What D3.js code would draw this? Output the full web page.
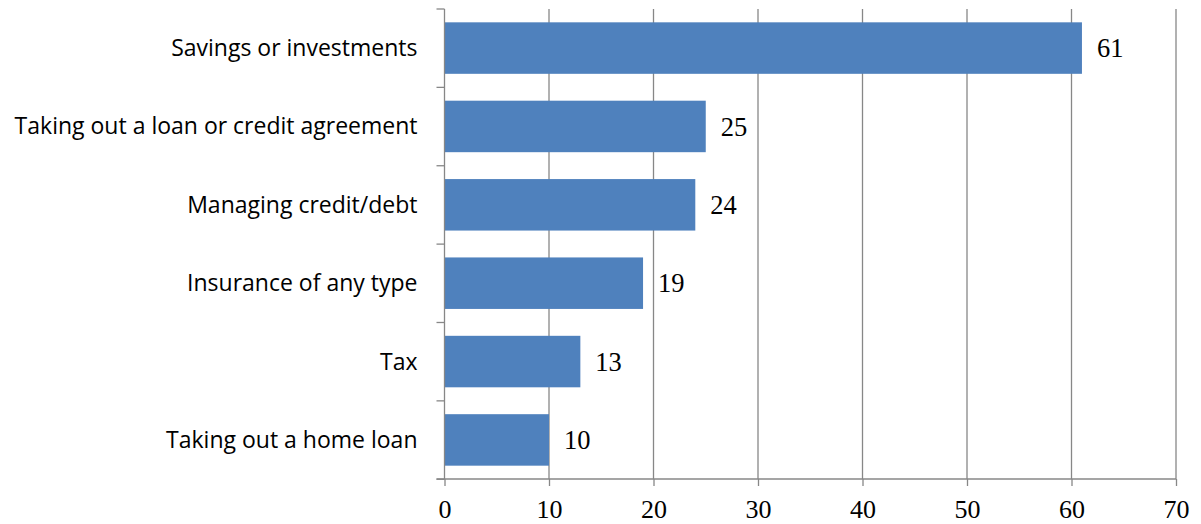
<!DOCTYPE html>
<html>
<head>
<meta charset="utf-8">
<script src="https://cdn.jsdelivr.net/npm/d3@7"></script>
<style>
  html, body { margin: 0; padding: 0; background: #fff; }
  svg { display: block; }
</style>
</head>
<body>
<svg id="chart" width="1201" height="524"></svg>
<script>
// Reasons for seeking financial advice (%)
const categories = [
  "Savings or investments",
  "Taking out a loan or credit agreement",
  "Managing credit/debt",
  "Insurance of any type",
  "Tax",
  "Taking out a home loan"
];
const values = [61, 25, 24, 19, 13, 10];
const xTicks = [0, 10, 20, 30, 40, 50, 60, 70];

const width = 1201, height = 524;
const margin = { top: 9, right: 25, bottom: 45, left: 444.5 };

const svg = d3.select("#chart");

const x = d3.scaleLinear()
  .domain([0, 70])
  .range([margin.left, width - margin.right]);

const y = d3.scaleBand()
  .domain(categories)
  .range([margin.top, height - margin.bottom])
  .paddingInner(0.343)
  .paddingOuter(0.17);

const gridColor = "#878787";
const serif = "'Liberation Serif', 'Times New Roman', serif";
const plotTop = margin.top, plotBottom = height - margin.bottom;

// vertical gridlines
svg.append("g")
  .selectAll("line")
  .data(xTicks.filter(d => d > 0))
  .join("line")
  .attr("x1", d => x(d)).attr("x2", d => x(d))
  .attr("y1", plotTop).attr("y2", plotBottom)
  .attr("stroke", gridColor)
  .attr("stroke-width", 1.3);

// bars
svg.append("g")
  .selectAll("rect")
  .data(categories)
  .join("rect")
  .attr("x", x(0))
  .attr("y", d => y(d))
  .attr("width", (d, i) => x(values[i]) - x(0))
  .attr("height", y.bandwidth())
  .attr("fill", "#4F81BD");

// value labels
svg.append("g")
  .selectAll("text")
  .data(categories)
  .join("text")
  .attr("x", (d, i) => x(values[i]) + 15)
  .attr("y", d => y(d) + y.bandwidth() / 2)
  .attr("dy", "0.35em")
  .attr("font-family", serif)
  .attr("font-size", 26.5)
  .attr("fill", "#000")
  .text((d, i) => values[i]);

// x axis
const xAxis = svg.append("g")
  .attr("transform", `translate(0,${plotBottom})`)
  .call(d3.axisBottom(x).tickValues(xTicks).tickSize(7).tickSizeOuter(0).tickPadding(14));
xAxis.select(".domain").remove();
xAxis.append("line")
  .attr("x1", x(0) - 8).attr("x2", x(70))
  .attr("y1", 0).attr("y2", 0)
  .attr("stroke", gridColor).attr("stroke-width", 1.3);
xAxis.selectAll(".tick line").attr("stroke", gridColor).attr("stroke-width", 1.3);
xAxis.selectAll(".tick text")
  .attr("font-family", serif)
  .attr("font-size", 26)
  .attr("fill", "#000");

// y axis: line with ticks between categories
const yAxis = svg.append("g");
yAxis.append("line")
  .attr("x1", x(0)).attr("x2", x(0))
  .attr("y1", plotTop).attr("y2", plotBottom)
  .attr("stroke", gridColor).attr("stroke-width", 1.3);
yAxis.selectAll(".ytick")
  .data(d3.range(categories.length + 1))
  .join("line")
  .attr("class", "ytick")
  .attr("x1", x(0) - 8).attr("x2", x(0))
  .attr("y1", i => plotTop + i * y.step())
  .attr("y2", i => plotTop + i * y.step())
  .attr("stroke", gridColor).attr("stroke-width", 1.3);

// category labels
yAxis.selectAll(".ylab")
  .data(categories)
  .join("text")
  .attr("class", "ylab")
  .attr("x", x(0) - 27)
  .attr("y", d => y(d) + y.bandwidth() / 2)
  .attr("dy", "0.35em")
  .attr("text-anchor", "end")
  .attr("font-family", "'Open Sans', 'Noto Sans', sans-serif")
  .attr("font-size", 23)
  .attr("fill", "#000")
  .text(d => d);
</script>
</body>
</html>
